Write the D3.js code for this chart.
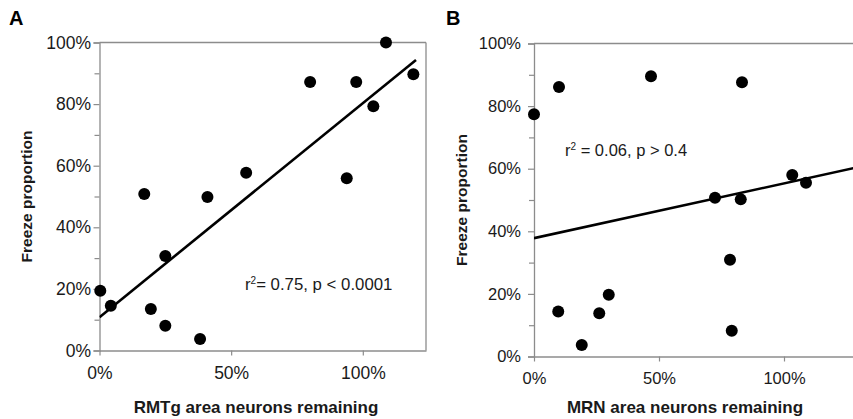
<!DOCTYPE html>
<html>
<head>
<meta charset="utf-8">
<script src="https://cdn.jsdelivr.net/npm/d3@7"></script>
<style>
  body { margin: 0; background: #fff; }
  svg { display: block; font-family: "Liberation Sans", Arial, sans-serif; }
</style>
</head>
<body>
<svg id="chart" width="853" height="419"></svg>
<script>
// Panel A: RMTg
const rmtgX = [0.003, 0.043, 0.17, 0.195, 0.25, 0.25, 0.382, 0.41, 0.557, 0.80, 0.939, 0.975, 1.04, 1.088, 1.192];
const rmtgY = [0.194, 0.145, 0.508, 0.135, 0.307, 0.08, 0.037, 0.498, 0.577, 0.872, 0.559, 0.872, 0.793, 1.0, 0.897];
const rmtgFit = { intercept: 0.108, slope: 0.695, xEnd: 1.202 };

// Panel B: MRN
const mrnX = [0.0, 0.10, 0.097, 0.191, 0.261, 0.299, 0.468, 0.724, 0.784, 0.791, 0.827, 0.832, 1.033, 1.088];
const mrnY = [0.774, 0.861, 0.144, 0.037, 0.138, 0.197, 0.895, 0.507, 0.309, 0.082, 0.502, 0.876, 0.58, 0.555];
const mrnFit = { intercept: 0.378, slope: 0.175, xEnd: 1.30 };

const yTicks = [0, 0.2, 0.4, 0.6, 0.8, 1.0];
const yMinorTicks = [0.1, 0.3, 0.5, 0.7, 0.9];
const xTicks = [0, 0.5, 1.0];

const svg = d3.select("#chart");
const pct = d3.format(".0%");
const axisColor = "#8c8c8c";
const textColor = "#1a1a1a";

function panel(opts) {
  const { xs, ys, fit, left, top, bottom, right, xMax, letter, letterX, tickFont, yPad,
          xTitle, xTitleX, yTitleX, note, noteX, noteY, noteFont, rightBorder } = opts;
  const x = d3.scaleLinear().domain([0, xMax]).range([left, right]);
  const y = d3.scaleLinear().domain([0, 1]).range([bottom, top]);
  const g = svg.append("g");

  // frame top / right
  g.append("line").attr("x1", left).attr("x2", right).attr("y1", top).attr("y2", top)
    .attr("stroke", axisColor).attr("stroke-width", 1.3);
  if (rightBorder) {
    g.append("line").attr("x1", right).attr("x2", right).attr("y1", top).attr("y2", bottom)
      .attr("stroke", axisColor).attr("stroke-width", 1.3);
  }

  // y axis
  g.append("g").attr("transform", `translate(${left},0)`)
    .call(d3.axisLeft(y).tickValues(yTicks).tickFormat(pct).tickSize(6).tickPadding(yPad));
  g.append("g").attr("transform", `translate(${left},0)`)
    .call(d3.axisLeft(y).tickValues(yMinorTicks).tickFormat("").tickSize(5))
    .select(".domain").remove();

  // x axis
  g.append("g").attr("transform", `translate(0,${bottom})`)
    .call(d3.axisBottom(x).tickValues(xTicks).tickFormat(pct).tickSize(5).tickPadding(11).tickSizeOuter(0));

  g.selectAll(".domain").attr("stroke", axisColor).attr("stroke-width", 1.3);
  g.selectAll(".tick line").attr("stroke", axisColor).attr("stroke-width", 1.2);
  g.selectAll(".tick text").attr("fill", textColor).style("font-size", tickFont + "px");

  // clip region
  const clipId = "clip" + letter;
  svg.append("clipPath").attr("id", clipId).append("rect")
    .attr("x", left).attr("y", top - 10).attr("width", right - left + 10).attr("height", bottom - top + 10);

  // fit line
  g.append("line")
    .attr("clip-path", `url(#${clipId})`)
    .attr("x1", x(0)).attr("y1", y(fit.intercept))
    .attr("x2", x(fit.xEnd)).attr("y2", y(fit.intercept + fit.slope * fit.xEnd))
    .attr("stroke", "#000").attr("stroke-width", 2.6);

  // points
  g.selectAll("circle.pt").data(xs.map((d, i) => [d, ys[i]])).enter()
    .append("circle").attr("class", "pt")
    .attr("cx", d => x(d[0])).attr("cy", d => y(d[1])).attr("r", 6)
    .attr("fill", "#000");

  // panel letter
  g.append("text").attr("x", letterX).attr("y", 25).text(letter)
    .attr("fill", "#000").style("font-size", "20px").style("font-weight", "bold");

  // axis titles
  g.append("text").attr("x", xTitleX).attr("y", 413).attr("text-anchor", "middle")
    .text(xTitle).attr("fill", textColor).style("font-size", "17px").style("font-weight", "bold");
  g.append("text").attr("transform", `translate(${yTitleX},${(top + bottom) / 2}) rotate(-90)`)
    .attr("text-anchor", "middle").attr("dy", "0.35em")
    .text("Freeze proportion").attr("fill", textColor).style("font-size", "15.5px").style("font-weight", "bold");

  // annotation
  const t = g.append("text").attr("x", noteX).attr("y", noteY).attr("fill", textColor).style("font-size", noteFont + "px");
  t.append("tspan").text("r");
  t.append("tspan").text("2").attr("dy", -6).style("font-size", "10px");
  t.append("tspan").text(note).attr("dy", 6);
}

panel({
  xs: rmtgX, ys: rmtgY, fit: rmtgFit,
  left: 99.5, right: 426, top: 42.5, bottom: 350.5, xMax: 1.24, tickFont: 17.5, yPad: 2.5,
  letter: "A", letterX: 9, xTitle: "RMTg area neurons remaining", xTitleX: 256, yTitleX: 27,
  note: "= 0.75, p < 0.0001", noteX: 245, noteY: 290, noteFont: 16.8, rightBorder: true
});

panel({
  xs: mrnX, ys: mrnY, fit: mrnFit,
  left: 534, right: 863, top: 43.5, bottom: 356.5, xMax: 1.316, tickFont: 16.5, yPad: 7,
  letter: "B", letterX: 446, xTitle: "MRN area neurons remaining", xTitleX: 685, yTitleX: 462,
  note: " = 0.06, p > 0.4", noteX: 565, noteY: 156, noteFont: 16.5, rightBorder: false
});
</script>
</body>
</html>
